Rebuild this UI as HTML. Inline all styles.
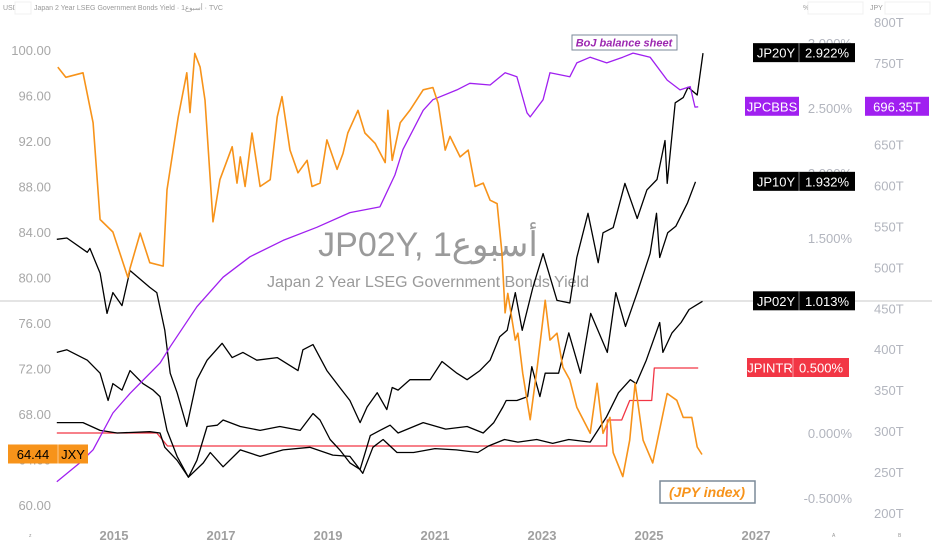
<!DOCTYPE html>
<html><head><meta charset="utf-8"><style>
html,body{margin:0;padding:0;background:#fff;}
svg{display:block;font-family:"Liberation Sans","Noto Sans CJK JP",sans-serif;}
</style></head><body>
<svg id="chart" width="932" height="550" viewBox="0 0 932 550" xmlns="http://www.w3.org/2000/svg">
<rect width="932" height="550" fill="#fff"/>
<g font-size="7" fill="#999">
 <text x="3" y="10">USD</text>
 <rect x="15" y="2" width="16" height="12" fill="#fff" stroke="#f0f0f0"/>
 <text x="34" y="10">Japan 2 Year LSEG Government Bonds Yield · 1أسبوع · TVC</text>
 <text x="803" y="10">%</text>
 <rect x="808" y="2" width="55" height="12" fill="#fff" stroke="#f0f0f0"/>
 <text x="870" y="10">JPY</text>
 <rect x="885" y="2" width="45" height="12" fill="#fff" stroke="#f0f0f0"/>
</g>
<g fill="#9a9a9a">
 <text x="428" y="256" font-size="34" text-anchor="middle">JP02Y, 1أسبوع</text>
 <text x="428" y="287" font-size="16" text-anchor="middle">Japan 2 Year LSEG Government Bonds Yield</text>
</g>
<line x1="0" x2="932" y1="301" y2="301" stroke="#c8c8c8" stroke-width="1"/>
<g id="axes"></g>
<g id="series"></g>
<g id="labels"></g>
<g>
 <rect x="572" y="35" width="105" height="15" fill="#fff" stroke="#7b8a99"/>
 <text x="624" y="46.5" font-size="11" font-style="italic" font-weight="bold" fill="#9c27b0" text-anchor="middle">BoJ balance sheet</text>
</g>
<g>
 <rect x="660" y="481" width="95" height="22" fill="#fff" stroke="#7b8a99" stroke-width="1.5"/>
 <text x="707" y="497" font-size="14" font-style="italic" font-weight="bold" fill="#f7931a" text-anchor="middle">(JPY index)</text>
</g>
<text x="29" y="537" font-size="5" fill="#999">z</text>
<text x="832" y="537" font-size="5" fill="#999">A</text>
<text x="898" y="537" font-size="5" fill="#999">B</text>
</svg>
<script>
// ---- data ----
const xTickYears = [2015, 2017, 2019, 2021, 2023, 2025, 2027];
const jxyTicks = [100, 96, 92, 88, 84, 80, 76, 72, 68, 64, 60];
const pctTicks = [3.0, 2.5, 2.0, 1.5, 0.0, -0.5];
const bbsTicks = [800, 750, 700, 650, 600, 550, 500, 450, 400, 350, 300, 250, 200];

const jxyDates = [2013.95,2014.1,2014.42,2014.61,2014.74,2014.98,2015.26,2015.3,2015.49,2015.67,2015.92,2015.99,2016.2,2016.36,2016.42,2016.51,2016.61,2016.7,2016.79,2016.85,2016.98,2017.21,2017.3,2017.36,2017.45,2017.58,2017.73,2017.92,2018.05,2018.14,2018.29,2018.44,2018.61,2018.7,2018.85,2018.98,2019.17,2019.28,2019.37,2019.56,2019.69,2019.88,2020.07,2020.12,2020.2,2020.35,2020.53,2020.78,2020.96,2021.06,2021.19,2021.28,2021.47,2021.62,2021.75,2021.9,2022.03,2022.16,2022.25,2022.31,2022.36,2022.5,2022.55,2022.64,2022.78,2022.91,2023.06,2023.15,2023.28,2023.39,2023.52,2023.65,2023.9,2024.03,2024.14,2024.27,2024.33,2024.51,2024.64,2024.74,2024.89,2025.07,2025.34,2025.52,2025.64,2025.8,2025.9,2025.99];
const jxyValues = [98.5,97.6,98.0,93.6,85.1,84.0,80.0,80.8,83.9,81.3,81.0,87.7,94.1,98.0,94.5,99.7,98.5,95.6,89.2,84.9,88.6,91.5,88.3,90.6,88.0,92.7,88.0,88.6,94.1,95.9,91.2,89.2,90.3,88.0,88.3,92.1,89.5,90.9,92.7,94.7,92.7,91.8,90.1,94.7,90.3,93.6,94.7,96.5,96.7,95.3,91.2,92.4,90.6,91.2,88.0,88.3,86.8,86.5,82.2,76.9,78.6,74.5,75.1,71.6,67.5,72.1,78.0,74.5,75.1,72.1,71.0,68.6,66.3,70.7,66.3,67.7,64.6,62.5,65.7,70.7,65.7,63.7,69.8,69.2,67.7,67.7,65.1,64.44];

const bbsDates = [2013.93,2014.36,2014.61,2014.98,2015.3,2015.86,2016.05,2016.55,2017.04,2017.54,2018.16,2018.79,2019.41,2019.97,2020.25,2020.4,2020.78,2020.96,2021.41,2021.65,2022.03,2022.31,2022.53,2022.72,2022.78,2023.02,2023.15,2023.52,2023.65,2023.9,2024.21,2024.51,2024.7,2025.02,2025.34,2025.58,2025.77,2025.86,2025.92];
const bbsValues = [238,261,277,322,346,383,403,452,488,513,533,549,567,574,613,644,692,705,717,725,723,738,733,689,684,705,738,733,750,757,750,757,762,757,729,717,721,696,696.35];

const jp20Dates = [2013.93,2014.12,2014.5,2014.55,2014.74,2014.87,2014.98,2015.15,2015.3,2015.67,2015.8,2015.95,2016.05,2016.18,2016.36,2016.55,2016.74,2017.02,2017.21,2017.41,2017.67,2018.05,2018.44,2018.53,2018.72,2018.98,2019.22,2019.41,2019.6,2019.73,2019.92,2020.1,2020.2,2020.31,2020.53,2020.91,2021.13,2021.41,2021.6,2021.84,2022.03,2022.21,2022.35,2022.5,2022.63,2022.83,2023.02,2023.28,2023.52,2023.65,2023.86,2024.05,2024.14,2024.33,2024.55,2024.78,2024.96,2025.15,2025.3,2025.34,2025.49,2025.64,2025.73,2025.9,2026.01];
const jp20Values = [1.49,1.50,1.39,1.42,1.23,0.92,1.08,0.98,1.25,1.12,1.08,0.79,0.46,0.31,0.05,0.41,0.56,0.69,0.58,0.62,0.56,0.58,0.48,0.64,0.68,0.48,0.35,0.25,0.08,0.20,0.31,0.18,0.35,0.33,0.41,0.41,0.55,0.46,0.41,0.48,0.56,0.74,0.79,1.08,0.79,1.12,1.38,1.02,1.00,1.35,1.69,1.31,1.54,1.58,1.92,1.65,1.87,1.95,2.25,1.92,2.54,2.58,2.66,2.60,2.922];

const jp10Dates = [2013.93,2014.12,2014.5,2014.74,2014.89,2014.98,2015.15,2015.3,2015.54,2015.73,2015.86,2015.99,2016.18,2016.39,2016.55,2016.74,2016.93,2017.04,2017.36,2017.73,2018.1,2018.48,2018.72,2018.85,2019.04,2019.22,2019.41,2019.6,2019.79,2019.97,2020.16,2020.31,2020.78,2021.2,2021.6,2021.9,2022.1,2022.27,2022.33,2022.53,2022.73,2022.81,2022.96,2023.06,2023.31,2023.5,2023.72,2023.91,2024.22,2024.38,2024.56,2024.78,2024.9,2025.02,2025.14,2025.2,2025.35,2025.5,2025.72,2025.87];
const jp10Values = [0.62,0.64,0.56,0.46,0.25,0.38,0.33,0.48,0.38,0.33,0.28,0.02,-0.18,-0.34,-0.21,0.05,0.06,0.10,0.05,0.02,0.05,0.02,0.15,0.10,-0.05,-0.13,-0.23,-0.28,-0.02,0.02,0.06,0.00,0.08,0.03,0.05,0.00,0.08,0.20,0.25,0.25,0.28,0.51,0.28,0.46,0.46,0.77,0.46,0.92,0.62,1.08,0.82,1.08,1.23,1.38,1.69,1.35,1.54,1.59,1.77,1.932];

const jp02Dates = [2013.93,2014.42,2014.74,2015.06,2015.67,2015.86,2015.95,2016.18,2016.39,2016.67,2016.8,2017.04,2017.36,2017.73,2018.16,2018.66,2019.09,2019.41,2019.65,2019.84,2020.03,2020.29,2020.6,2021.0,2021.4,2021.8,2022.0,2022.3,2022.55,2022.9,2023.2,2023.5,2023.9,2024.2,2024.43,2024.65,2024.76,2024.95,2025.2,2025.26,2025.43,2025.6,2025.75,2025.87,2026.0];
const jp02Values = [0.08,0.08,0.02,0.0,0.01,0.0,-0.11,-0.21,-0.34,-0.23,-0.15,-0.26,-0.13,-0.18,-0.13,-0.11,-0.17,-0.18,-0.31,-0.11,-0.05,-0.15,-0.15,-0.12,-0.13,-0.15,-0.10,-0.05,-0.07,-0.05,-0.08,-0.05,-0.07,0.12,0.31,0.41,0.38,0.56,0.85,0.62,0.77,0.85,0.95,0.98,1.013];

const intrDates = [2013.93,2015.8,2016.0,2024.21,2024.22,2024.49,2024.64,2025.05,2025.1,2025.92];
const intrValues = [0.0,0.0,-0.1,-0.1,0.1,0.1,0.25,0.25,0.5,0.5];

// ---- axis functions ----
const xOf = yr => 114 + (yr - 2015) * 53.5;
const yPct = p => 433 - p * 130;
const yJxy = v => 50 + (100 - v) * 11.375;
const yBbs = t => 22 + (800 - t) * 0.818;

const NS = 'http://www.w3.org/2000/svg';
function mk(tag, attrs, parent, txt) {
  const e = document.createElementNS(NS, tag);
  for (const k in attrs) e.setAttribute(k, attrs[k]);
  if (txt !== undefined) e.textContent = txt;
  parent.appendChild(e);
  return e;
}
const axes = document.getElementById('axes');
const series = document.getElementById('series');
const labels = document.getElementById('labels');

xTickYears.forEach(y => {
  const t = mk('text', {x: xOf(y), y: 540, 'font-size': 13, 'font-weight': 'bold', fill: '#a0a0a0', 'text-anchor': 'middle'}, axes, String(y));
  
  
});
jxyTicks.forEach(v => {
  const t = mk('text', {x: 51, y: yJxy(v) + 5, 'font-size': 13, fill: '#a8a8a8', 'text-anchor': 'end'}, axes, v.toFixed(2));
  
  
});
pctTicks.forEach(v => {
  const t = mk('text', {x: 852, y: yPct(v) + 5, 'font-size': 13, fill: '#b2b5be', 'text-anchor': 'end'}, axes, v.toFixed(3) + '%');
  
  
});
bbsTicks.forEach(v => {
  const t = mk('text', {x: 874, y: yBbs(v) + 5, 'font-size': 13, fill: '#b2b5be'}, axes, v + 'T');
  
  
});

function line(dates, vals, yf, color, name, w) {
  const d = dates.map((x, i) => (i ? 'L' : 'M') + xOf(x).toFixed(1) + ',' + yf(vals[i]).toFixed(1)).join('');
  const p = mk('path', {d: d, fill: 'none', stroke: color, 'stroke-width': w, 'stroke-linejoin': 'round'}, series);
  
  
}
line(intrDates, intrValues, yPct, '#f23645', 'jpintr-line', 1.3);
line(jp02Dates, jp02Values, yPct, '#000', 'jp02y-line', 1.3);
line(jp10Dates, jp10Values, yPct, '#000', 'jp10y-line', 1.3);
line(jp20Dates, jp20Values, yPct, '#000', 'jp20y-line', 1.3);
line(bbsDates, bbsValues, yBbs, '#a020f0', 'jpcbbs-line', 1.3);
line(jxyDates, jxyValues, yJxy, '#f7931a', 'jxy-line', 1.6);

function tag(x, y, w1, w2, bg, t1, t2, name) {
  const g = mk('g', {}, labels);
  
  
  mk('rect', {x: x, y: y - 10, width: w1 + w2, height: 19, fill: bg}, g);
  mk('line', {x1: x + w1, x2: x + w1, y1: y - 10, y2: y + 9, stroke: '#fff', 'stroke-opacity': 0.5}, g);
  mk('text', {x: x + w1 / 2, y: y + 4.5, 'font-size': 13, fill: bg === '#f7931a' ? '#000' : '#fff', 'text-anchor': 'middle'}, g, t1);
  mk('text', {x: x + w1 + w2 / 2, y: y + 4.5, 'font-size': 13, fill: bg === '#f7931a' ? '#000' : '#fff', 'text-anchor': 'middle'}, g, t2);
}
tag(753, yPct(jp20Values[jp20Values.length - 1]), 46, 56, '#000', 'JP20Y', '2.922%', 'jp20y-tag');
tag(753, yPct(jp10Values[jp10Values.length - 1]), 46, 56, '#000', 'JP10Y', '1.932%', 'jp10y-tag');
tag(753, yPct(jp02Values[jp02Values.length - 1]), 46, 56, '#000', 'JP02Y', '1.013%', 'jp02y-tag');
tag(747, yPct(intrValues[intrValues.length - 1]), 46, 56, '#f23645', 'JPINTR', '0.500%', 'jpintr-tag');
tag(8, yJxy(jxyValues[jxyValues.length - 1]), 50, 30, '#f7931a', '64.44', 'JXY', 'jxy-tag');
(function(){
  const y = yBbs(bbsValues[bbsValues.length - 1]);
  const g = mk('g', {}, labels);
  
  
  mk('rect', {x: 745, y: y - 10, width: 54, height: 19, fill: '#a020f0'}, g);
  mk('text', {x: 772, y: y + 4.5, 'font-size': 13, fill: '#fff', 'text-anchor': 'middle'}, g, 'JPCBBS');
  mk('rect', {x: 865, y: y - 10, width: 64, height: 19, fill: '#a020f0'}, g);
  mk('text', {x: 897, y: y + 4.5, 'font-size': 13, fill: '#fff', 'text-anchor': 'middle'}, g, '696.35T');
})();
</script>
</body></html>
